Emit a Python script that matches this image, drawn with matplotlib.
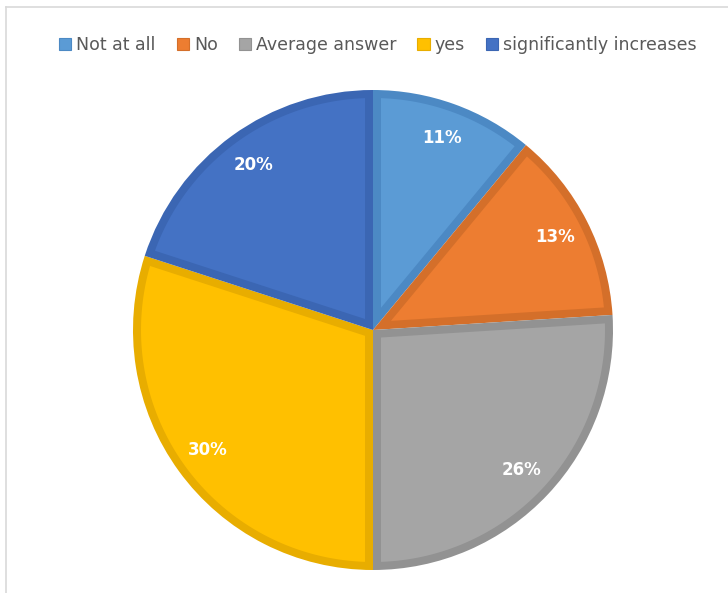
import numpy as np
import matplotlib.pyplot as plt
from matplotlib.lines import Line2D
from matplotlib.patches import Patch, Polygon

labels = ['Not at all', 'No', 'Average answer', 'yes', 'significantly increases']
values = [11, 13, 26, 30, 20]
colors = ['#5B9BD5', '#ED7D31', '#A5A5A5', '#FFC000', '#4472C4']
edges = ['#4C89C4', '#D46F2A', '#929292', '#E8AD00', '#3B66B3']

fig = plt.figure(figsize=(7.28, 5.93), dpi=100)
ax = fig.add_axes([373/728 - 240/728, 1 - (330 + 240)/593, 480/728, 480/593])

# base pie in border colour, lighter inset drawn on top of each slice
wedges, texts = ax.pie(values, colors=edges, startangle=90, counterclock=False,
                       radius=1.0, labels=[f'{v}%' for v in values],
                       labeldistance=0.85,
                       textprops=dict(color='white', fontsize=12, fontweight='bold',
                                      zorder=5),
                       wedgeprops=dict(linewidth=0))
d = 8 / 240  # border width in data units
R = 1.0 - d
for w, c in zip(wedges, colors):
    t1, t2 = np.radians(w.theta1), np.radians(w.theta2)
    h = (t2 - t1) / 2
    mid = (t1 + t2) / 2
    apex = d / np.sin(h) if h < np.pi / 2 else d
    delta = np.arcsin(d / R)
    arc = np.linspace(t1 + delta, t2 - delta, 80)
    pts = [(apex * np.cos(mid), apex * np.sin(mid))] + \
          [(R * np.cos(a), R * np.sin(a)) for a in arc]
    ax.add_patch(Polygon(pts, closed=True, facecolor=c, edgecolor='none', zorder=2))
for t in texts:
    t.set_ha('center')
    t.set_va('center')
ax.set_xlim(-1, 1)
ax.set_ylim(-1, 1)
ax.set_aspect('equal')

handles = [Patch(facecolor=c, edgecolor=e, linewidth=0.8) for c, e in zip(colors, edges)]
leg = fig.legend(handles, labels, loc='center', bbox_to_anchor=(378/728, 1 - 45/593),
                 ncol=5, frameon=False, handlelength=0.7, handleheight=0.7,
                 handletextpad=0.3, columnspacing=1.2,
                 prop=dict(size=12.5))
for t in leg.get_texts():
    t.set_color('#595959')

# outer chart frame (only top and left edges visible)
fig.add_artist(Line2D([6/728, 1], [1 - 7/593, 1 - 7/593], color='#D9D9D9', lw=1.2))
fig.add_artist(Line2D([6/728, 6/728], [0, 1 - 7/593], color='#D9D9D9', lw=1.2))

fig.savefig('out.png', dpi=100)
